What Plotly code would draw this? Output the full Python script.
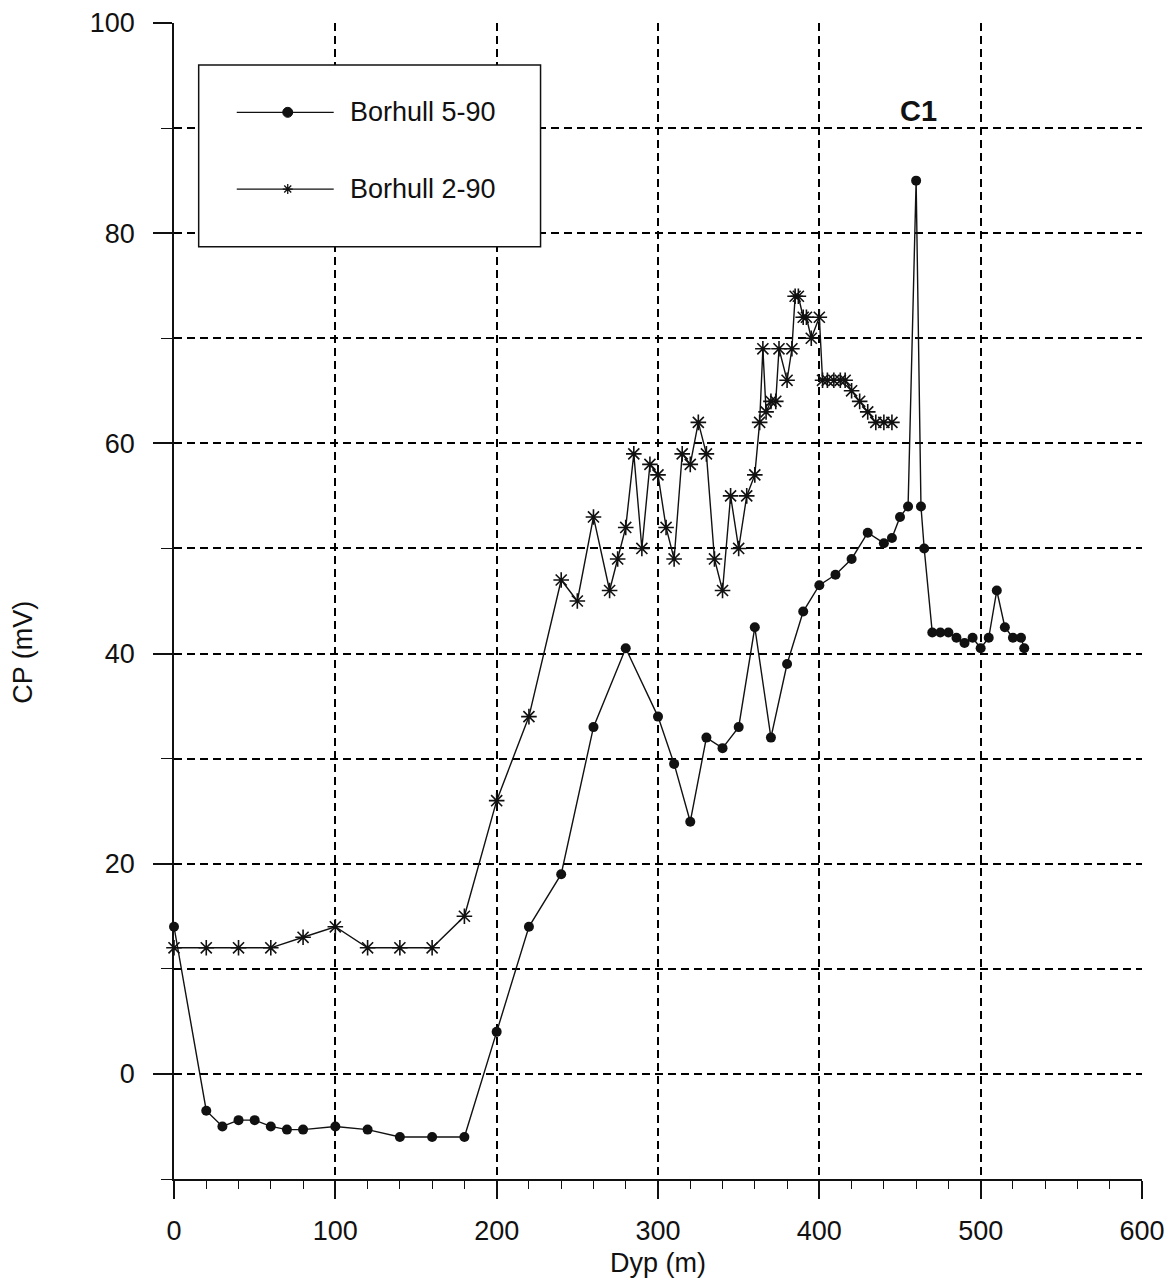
import plotly.graph_objects as go

# Borhull 5-90 (filled dots)
dyp_5_90 = [0, 20, 30, 40, 50, 60, 70, 80, 100, 120, 140, 160, 180, 200, 220, 240, 260, 280,
            300, 310, 320, 330, 340, 350, 360, 370, 380, 390, 400, 410, 420, 430, 440, 445,
            450, 455, 460, 463, 465, 470, 475, 480, 485, 490, 495, 500, 505, 510, 515, 520,
            525, 527]
cp_5_90 = [14, -3.5, -5, -4.4, -4.4, -5, -5.3, -5.3, -5, -5.3, -6, -6, -6, 4, 14, 19, 33, 40.5,
           34, 29.5, 24, 32, 31, 33, 42.5, 32, 39, 44, 46.5, 47.5, 49, 51.5, 50.5, 51,
           53, 54, 85, 54, 50, 42, 42, 42, 41.5, 41, 41.5, 40.5, 41.5, 46, 42.5, 41.5,
           41.5, 40.5]

# Borhull 2-90 (asterisks)
dyp_2_90 = [0, 20, 40, 60, 80, 100, 120, 140, 160, 180, 200, 220, 240, 250, 260, 270, 275, 280,
            285, 290, 295, 300, 305, 310, 315, 320, 325, 330, 335, 340, 345, 350, 355, 360,
            363, 365, 367, 370, 373, 375, 380, 383, 385, 387, 390, 392, 395, 400, 402, 405,
            409, 413, 416, 420, 425, 430, 435, 440, 445]
cp_2_90 = [12, 12, 12, 12, 13, 14, 12, 12, 12, 15, 26, 34, 47, 45, 53, 46, 49, 52,
           59, 50, 58, 57, 52, 49, 59, 58, 62, 59, 49, 46, 55, 50, 55, 57,
           62, 69, 63, 64, 64, 69, 66, 69, 74, 74, 72, 72, 70, 72, 66, 66,
           66, 66, 66, 65, 64, 63, 62, 62, 62]

series_names = ["Borhull 5-90", "Borhull 2-90"]
x_ticks = [0, 100, 200, 300, 400, 500, 600]
y_ticks = [0, 20, 40, 60, 80, 100]
annotation_label = "C1"

FONT = "Liberation Sans, Arial, sans-serif"
INK = "#111111"
GRID = "#000000"

fig = go.Figure()
fig.add_trace(go.Scatter(
    x=dyp_5_90, y=cp_5_90, mode="lines+markers", name=series_names[0],
    line=dict(color=INK, width=1.4),
    marker=dict(symbol="circle", size=10, color=INK),
    showlegend=False, cliponaxis=False))
fig.add_trace(go.Scatter(
    x=dyp_2_90, y=cp_2_90, mode="lines+markers", name=series_names[1],
    line=dict(color=INK, width=1.4),
    marker=dict(symbol="asterisk-open", size=13, color=INK, line=dict(width=1.6, color=INK)),
    showlegend=False, cliponaxis=False))

# Manual legend box (data coordinates)
lx0, lx1, ly0, ly1 = 15.3, 227.2, 78.7, 96.0
fig.add_shape(type="rect", xref="x", yref="y", x0=lx0, x1=lx1, y0=ly0, y1=ly1,
              line=dict(color=INK, width=1.5), fillcolor="white", layer="above")
rows = [91.5, 84.2]
for i, yy in enumerate(rows):
    fig.add_shape(type="line", xref="x", yref="y", x0=38.9, x1=99.0, y0=yy, y1=yy,
                  line=dict(color=INK, width=1.3), layer="above")
    fig.add_annotation(x=107.6, y=yy, xref="x", yref="y", text=series_names[i],
                       showarrow=False, xanchor="left", yanchor="middle",
                       font=dict(family=FONT, size=27, color=INK))
fig.add_shape(type="circle", xref="x", yref="y", xsizemode="pixel", ysizemode="pixel",
              xanchor=70.5, yanchor=rows[0], x0=-5, x1=5, y0=-5, y1=5,
              fillcolor=INK, line=dict(color=INK, width=1), layer="above")
fig.add_shape(type="path", xref="x", yref="y", xsizemode="pixel", ysizemode="pixel",
              xanchor=70.5, yanchor=rows[1],
              path="M-5,0 L5,0 M-3.5,-3.5 L3.5,3.5 M-3.5,3.5 L3.5,-3.5 M0,-5 L0,5",
              line=dict(color=INK, width=1.3), layer="above")

fig.add_annotation(x=461.5, y=91.6, xref="x", yref="y", text="<b>%s</b>" % annotation_label,
                   showarrow=False, font=dict(family=FONT, size=29, color=INK))

# Axis titles
fig.add_annotation(x=0.5, y=0.0, xref="paper", yref="paper", yshift=-84,
                   text="Dyp (m)", showarrow=False, yanchor="middle",
                   font=dict(family=FONT, size=27, color=INK))
fig.add_annotation(x=-0.156, y=0.456, xref="paper", yref="paper", textangle=-90,
                   text="CP (mV)", showarrow=False, xanchor="center", yanchor="middle",
                   font=dict(family=FONT, size=27, color=INK))

fig.update_xaxes(range=[0, 600], tickvals=x_ticks, ticktext=[str(v) for v in x_ticks],
                 automargin=False,
                 showline=True, linecolor=INK, linewidth=1.5,
                 ticks="outside", ticklen=18, tickwidth=1.5, tickcolor=INK,
                 showgrid=True, gridcolor=GRID, gridwidth=1.5, griddash="8px,5px",
                 zeroline=False, ticklabelstandoff=9,
                 tickfont=dict(family=FONT, size=27, color=INK),
                 minor=dict(dtick=20, tick0=0, ticks="outside", ticklen=8, tickwidth=1.3,
                            tickcolor=INK, showgrid=False))
fig.update_yaxes(range=[-10, 100], tickvals=y_ticks, ticktext=[str(v) for v in y_ticks],
                 automargin=False,
                 showline=True, linecolor=INK, linewidth=1.5,
                 ticks="outside", ticklen=19, tickwidth=1.5, tickcolor=INK,
                 showgrid=True, gridcolor=GRID, gridwidth=1.5, griddash="8px,5px",
                 zeroline=False, ticklabelstandoff=13,
                 tickfont=dict(family=FONT, size=27, color=INK),
                 minor=dict(dtick=10, tick0=0, ticks="outside", ticklen=11, tickwidth=1.3,
                            tickcolor=INK, showgrid=True, gridcolor=GRID, gridwidth=1.5,
                            griddash="8px,5px"))

# page has an 8px body margin, so the figure is sized to fit inside the window
fig.update_layout(width=1166, height=1277,
                  margin=dict(l=166, r=32, t=15, b=106),
                  paper_bgcolor="white", plot_bgcolor="white",
                  font=dict(family=FONT, color=INK))

fig.write_html("out.html")
